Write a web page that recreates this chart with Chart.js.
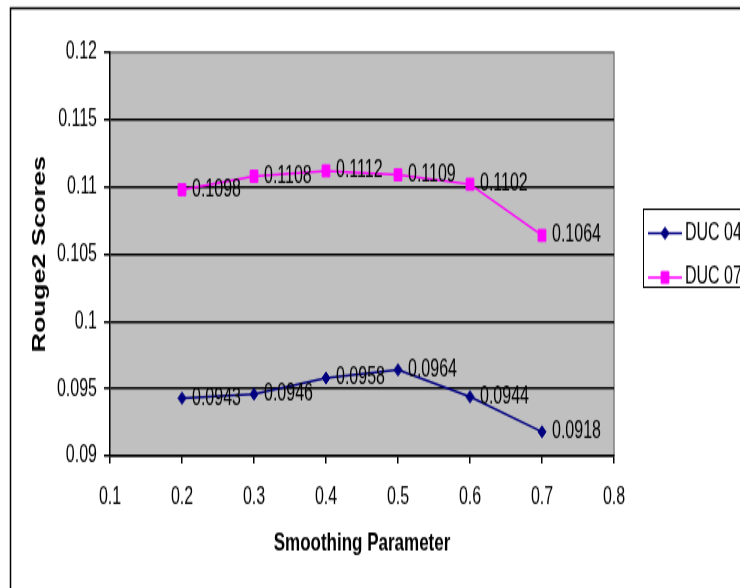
<!DOCTYPE html>
<html>
<head>
<meta charset="utf-8">
<script src="https://cdn.jsdelivr.net/npm/chart.js@4.4.1/dist/chart.umd.min.js"></script>
<style>
  html, body { margin: 0; padding: 0; background: #fff; }
  .frame { width: 740px; height: 588px; overflow: hidden; position: relative; }
  /* the original picture is stretched vertically, so draw at 740x392 and stretch */
  .stretch { position: absolute; left: 0; top: 0; width: 740px; height: 392px; transform: scaleY(1.5); transform-origin: 0 0; }
</style>
</head>
<body>
<div class="frame"><div class="stretch"><canvas id="rougeChart"></canvas></div></div>
<script>
const smoothing = [0.2, 0.3, 0.4, 0.5, 0.6, 0.7];
const duc04 = [0.0943, 0.0946, 0.0958, 0.0964, 0.0944, 0.0918];
const duc07 = [0.1098, 0.1108, 0.1112, 0.1109, 0.1102, 0.1064];
const seriesNames = ["DUC 04", "DUC 07"];
const xTickLabels = ["0.1", "0.2", "0.3", "0.4", "0.5", "0.6", "0.7", "0.8"];
const yTickLabels = ["0.09", "0.095", "0.1", "0.105", "0.11", "0.115", "0.12"];

Chart.defaults.font.family = "'Liberation Sans', Arial, sans-serif";
Chart.defaults.color = "#000";

const plotBackground = {
  id: "plotBackground",
  beforeDraw(chart) {
    const { ctx, chartArea: a } = chart;
    ctx.save();
    ctx.strokeStyle = "#000";
    ctx.lineWidth = 1.5;
    ctx.strokeRect(10.5, 5.5, 900, 600);
    ctx.fillStyle = "#c0c0c0";
    ctx.fillRect(a.left, a.top, a.width, a.height);
    ctx.strokeStyle = "#808080";
    ctx.beginPath();
    ctx.moveTo(a.left, a.top);
    ctx.lineTo(a.right, a.top);
    ctx.lineTo(a.right, a.bottom);
    ctx.stroke();
    ctx.restore();
  }
};

const pointLabels = {
  id: "pointLabels",
  afterDatasetsDraw(chart) {
    const ctx = chart.ctx;
    ctx.save();
    ctx.font = "16px 'Liberation Sans', Arial, sans-serif";
    ctx.fillStyle = "#000";
    ctx.textAlign = "left";
    ctx.textBaseline = "middle";
    chart.data.datasets.forEach((ds, i) => {
      chart.getDatasetMeta(i).data.forEach((pt, j) => {
        ctx.fillText(ds.data[j].y.toFixed(4), pt.x + 10, pt.y);
      });
    });
    ctx.restore();
  }
};

const boxLegend = {
  id: "boxLegend",
  afterDraw(chart) {
    const ctx = chart.ctx;
    const left = 643, top = 139.5, rows = [155.5, 185];
    ctx.save();
    ctx.strokeStyle = "#000";
    ctx.lineWidth = 1;
    ctx.strokeRect(left + 0.5, top, 200, 52);
    ctx.font = "16px 'Liberation Sans', Arial, sans-serif";
    ctx.textBaseline = "middle";
    chart.data.datasets.forEach((ds, i) => {
      const y = rows[i];
      ctx.strokeStyle = ds.borderColor;
      ctx.lineWidth = ds.borderWidth;
      ctx.beginPath();
      ctx.moveTo(left + 5, y);
      ctx.lineTo(left + 39, y);
      ctx.stroke();
      ctx.fillStyle = ds.pointBackgroundColor;
      ctx.lineWidth = 1;
      Chart.helpers.drawPoint(ctx, { pointStyle: ds.pointStyle, radius: ds.pointRadius, borderWidth: 1 }, left + 22, y);
      ctx.fillStyle = "#000";
      ctx.fillText(ds.label, left + 42, y);
    });
    ctx.restore();
  }
};

new Chart(document.getElementById("rougeChart"), {
  type: "line",
  data: {
    datasets: [
      {
        label: seriesNames[0],
        data: smoothing.map((x, i) => ({ x, y: duc04[i] })),
        borderColor: "#000080",
        backgroundColor: "#000080",
        pointBackgroundColor: "#000080",
        borderWidth: 1.5,
        pointStyle: "rectRot",
        pointRadius: 4,
        pointBorderWidth: 1,
      },
      {
        label: seriesNames[1],
        data: smoothing.map((x, i) => ({ x, y: duc07[i] })),
        borderColor: "#ff00ff",
        backgroundColor: "#ff00ff",
        pointBackgroundColor: "#ff00ff",
        borderWidth: 1.5,
        pointStyle: "rect",
        pointRadius: 5.5,
        pointBorderWidth: 1,
      },
    ],
  },
  options: {
    responsive: true,
    maintainAspectRatio: false,
    animation: false,
    layout: { padding: { top: 35, right: 126, bottom: 18, left: 0 } },
    plugins: {
      legend: { display: false },
      tooltip: { enabled: false },
    },
    scales: {
      x: {
        type: "linear",
        min: 0.1,
        max: 0.8,
        ticks: { stepSize: 0.1, padding: 13, font: { size: 16 }, callback: (v, i) => xTickLabels[i] },
        grid: { drawOnChartArea: false, color: "#000", tickColor: "#000", tickLength: 5, lineWidth: 1.5 },
        border: { color: "#000", width: 1.5 },
        title: { display: true, text: "Smoothing Parameter", font: { size: 17, weight: "bold" }, padding: { top: 0, bottom: 1 } },
        afterFit: s => { s.height = 70; },
      },
      y: {
        min: 0.09,
        max: 0.12,
        ticks: { stepSize: 0.005, padding: 7, font: { size: 16 }, callback: (v, i) => yTickLabels[i] },
        grid: {
          color: c => (c.index === yTickLabels.length - 1 ? "#808080" : "#000"),
          tickColor: "#000",
          tickLength: 6,
          lineWidth: 1.5,
        },
        border: { color: "#000", width: 1.5 },
        title: { display: true, text: "Rouge2 Scores", font: { size: 18, weight: "bold" }, padding: { top: 29, bottom: 0 } },
        afterFit: s => { s.width = 110; },
      },
    },
  },
  plugins: [plotBackground, pointLabels, boxLegend],
});
</script>
</body>
</html>
